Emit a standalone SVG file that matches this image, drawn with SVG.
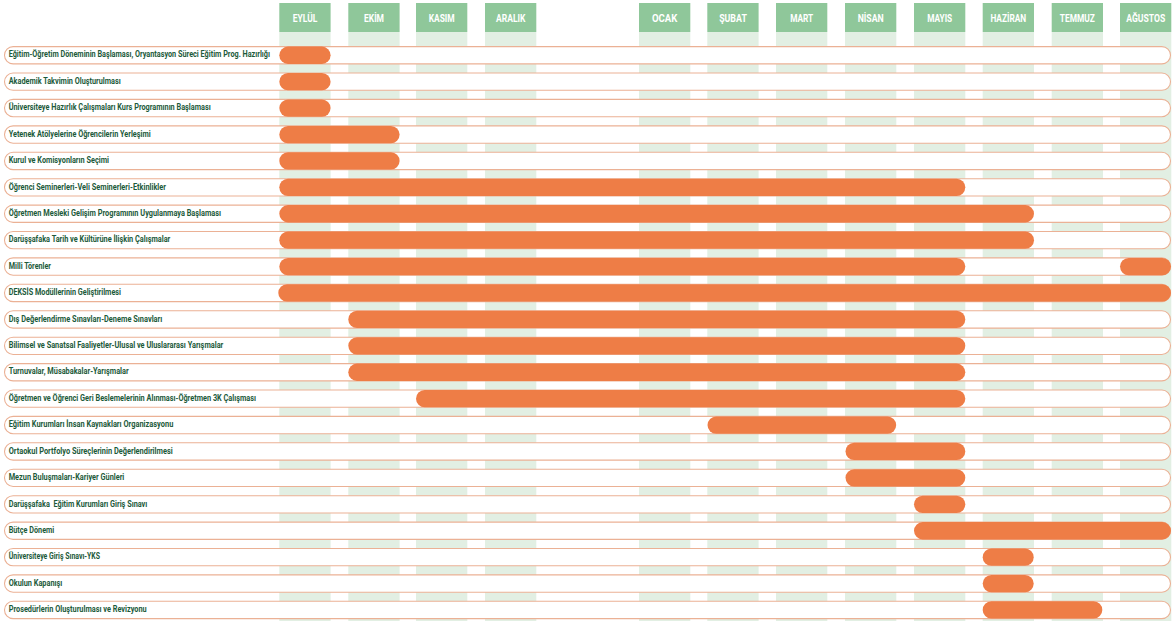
<svg xmlns="http://www.w3.org/2000/svg" width="1172" height="621" viewBox="0 0 1172 621">
<style>
.col{fill:#e2efe3}
.hdr{fill:#8fc79a}
.ht{fill:#ffffff;font-family:"Roboto","Liberation Sans",sans-serif;font-weight:bold;font-size:11px;text-anchor:middle}
.pill{fill:#ffffff;stroke:#ebb195;stroke-width:1.1}
.bar{fill:#ee7d46}
.lbl{fill:#1c5a3a;font-family:"Roboto","Liberation Sans",sans-serif;font-weight:bold;font-size:8.6px}
</style>
<rect width="1172" height="621" fill="#ffffff"/>
<g id="months">
<g id="m-eylul"><rect class="col" x="279.3" y="32" width="51.3" height="589"/><rect class="hdr" x="279.3" y="3" width="51.3" height="29"/><text class="ht" x="305" y="22" textLength="24.7" lengthAdjust="spacingAndGlyphs">EYLÜL</text></g>
<g id="m-ekim"><rect class="col" x="348.3" y="32" width="51.3" height="589"/><rect class="hdr" x="348.3" y="3" width="51.3" height="29"/><text class="ht" x="374" y="22" textLength="20" lengthAdjust="spacingAndGlyphs">EKİM</text></g>
<g id="m-kasim"><rect class="col" x="416" y="32" width="51.3" height="589"/><rect class="hdr" x="416" y="3" width="51.3" height="29"/><text class="ht" x="441.7" y="22" textLength="26" lengthAdjust="spacingAndGlyphs">KASIM</text></g>
<g id="m-aralik"><rect class="col" x="485" y="32" width="51.3" height="589"/><rect class="hdr" x="485" y="3" width="51.3" height="29"/><text class="ht" x="510.7" y="22" textLength="29.3" lengthAdjust="spacingAndGlyphs">ARALIK</text></g>
<g id="m-ocak"><rect class="col" x="639" y="32" width="51.3" height="589"/><rect class="hdr" x="639" y="3" width="51.3" height="29"/><text class="ht" x="664.7" y="22" textLength="25.3" lengthAdjust="spacingAndGlyphs">OCAK</text></g>
<g id="m-subat"><rect class="col" x="707.3" y="32" width="51.3" height="589"/><rect class="hdr" x="707.3" y="3" width="51.3" height="29"/><text class="ht" x="733" y="22" textLength="27.7" lengthAdjust="spacingAndGlyphs">ŞUBAT</text></g>
<g id="m-mart"><rect class="col" x="776" y="32" width="51.3" height="589"/><rect class="hdr" x="776" y="3" width="51.3" height="29"/><text class="ht" x="801.7" y="22" textLength="23" lengthAdjust="spacingAndGlyphs">MART</text></g>
<g id="m-nisan"><rect class="col" x="845" y="32" width="51.3" height="589"/><rect class="hdr" x="845" y="3" width="51.3" height="29"/><text class="ht" x="870.7" y="22" textLength="26" lengthAdjust="spacingAndGlyphs">NİSAN</text></g>
<g id="m-mayis"><rect class="col" x="914" y="32" width="51.3" height="589"/><rect class="hdr" x="914" y="3" width="51.3" height="29"/><text class="ht" x="939.7" y="22" textLength="25" lengthAdjust="spacingAndGlyphs">MAYIS</text></g>
<g id="m-haziran"><rect class="col" x="982.7" y="32" width="51.3" height="589"/><rect class="hdr" x="982.7" y="3" width="51.3" height="29"/><text class="ht" x="1008.3" y="22" textLength="35.7" lengthAdjust="spacingAndGlyphs">HAZİRAN</text></g>
<g id="m-temmuz"><rect class="col" x="1051.7" y="32" width="51.3" height="589"/><rect class="hdr" x="1051.7" y="3" width="51.3" height="29"/><text class="ht" x="1077.3" y="22" textLength="35" lengthAdjust="spacingAndGlyphs">TEMMUZ</text></g>
<g id="m-agustos"><rect class="col" x="1120" y="32" width="51.3" height="589"/><rect class="hdr" x="1120" y="3" width="51.3" height="29"/><text class="ht" x="1145.7" y="22" textLength="39" lengthAdjust="spacingAndGlyphs">AĞUSTOS</text></g>
</g>
<g id="r1"><rect class="pill" x="4.5" y="46.6" width="1166" height="17.3" rx="8.65"/><rect class="bar" x="279.3" y="46.6" width="51.3" height="17.3" rx="8.65"/><text class="lbl" x="8.7" y="57.4" textLength="261.3" lengthAdjust="spacingAndGlyphs">Eğitim-Öğretim Döneminin Başlaması,  Oryantasyon Süreci Eğitim Prog. Hazırlığı</text></g>
<g id="r2"><rect class="pill" x="4.5" y="73.0" width="1166" height="17.3" rx="8.65"/><rect class="bar" x="279.3" y="73.0" width="51.3" height="17.3" rx="8.65"/><text class="lbl" x="8.7" y="83.8" textLength="112" lengthAdjust="spacingAndGlyphs">Akademik Takvimin Oluşturulması</text></g>
<g id="r3"><rect class="pill" x="4.5" y="99.4" width="1166" height="17.3" rx="8.65"/><rect class="bar" x="279.3" y="99.4" width="51.3" height="17.3" rx="8.65"/><text class="lbl" x="8.7" y="110.2" textLength="202" lengthAdjust="spacingAndGlyphs">Üniversiteye Hazırlık Çalışmaları Kurs Programının Başlaması</text></g>
<g id="r4"><rect class="pill" x="4.5" y="125.9" width="1166" height="17.3" rx="8.65"/><rect class="bar" x="279.3" y="125.9" width="120.3" height="17.3" rx="8.65"/><text class="lbl" x="8.7" y="136.7" textLength="142" lengthAdjust="spacingAndGlyphs">Yetenek Atölyelerine Öğrencilerin Yerleşimi</text></g>
<g id="r5"><rect class="pill" x="4.5" y="152.3" width="1166" height="17.3" rx="8.65"/><rect class="bar" x="279.3" y="152.3" width="120.3" height="17.3" rx="8.65"/><text class="lbl" x="8.7" y="163.1" textLength="100.3" lengthAdjust="spacingAndGlyphs">Kurul ve Komisyonların Seçimi</text></g>
<g id="r6"><rect class="pill" x="4.5" y="178.7" width="1166" height="17.3" rx="8.65"/><rect class="bar" x="279.3" y="178.7" width="686" height="17.3" rx="8.65"/><text class="lbl" x="8.7" y="189.5" textLength="157.3" lengthAdjust="spacingAndGlyphs">Öğrenci Seminerleri-Veli Seminerleri-Etkinlikler</text></g>
<g id="r7"><rect class="pill" x="4.5" y="205.1" width="1166" height="17.3" rx="8.65"/><rect class="bar" x="279.3" y="205.1" width="754.7" height="17.3" rx="8.65"/><text class="lbl" x="8.7" y="215.9" textLength="212.3" lengthAdjust="spacingAndGlyphs">Öğretmen Mesleki Gelişim Programının Uygulanmaya Başlaması</text></g>
<g id="r8"><rect class="pill" x="4.5" y="231.5" width="1166" height="17.3" rx="8.65"/><rect class="bar" x="279.3" y="231.5" width="754.7" height="17.3" rx="8.65"/><text class="lbl" x="8.7" y="242.3" textLength="161.6" lengthAdjust="spacingAndGlyphs">Darüşşafaka Tarih ve Kültürüne İlişkin Çalışmalar</text></g>
<g id="r9"><rect class="pill" x="4.5" y="257.9" width="1166" height="17.3" rx="8.65"/><rect class="bar" x="279.3" y="257.9" width="686" height="17.3" rx="8.65"/><rect class="bar" x="1120" y="257.9" width="51" height="17.3" rx="8.65"/><text class="lbl" x="8.7" y="268.7" textLength="42.3" lengthAdjust="spacingAndGlyphs">Milli Törenler</text></g>
<g id="r10"><rect class="pill" x="4.5" y="284.3" width="1166" height="17.3" rx="8.65"/><rect class="bar" x="278.3" y="284.3" width="892.7" height="17.3" rx="8.65"/><text class="lbl" x="8.7" y="295.1" textLength="112.3" lengthAdjust="spacingAndGlyphs">DEKSİS Modüllerinin Geliştirilmesi</text></g>
<g id="r11"><rect class="pill" x="4.5" y="310.8" width="1166" height="17.3" rx="8.65"/><rect class="bar" x="348.3" y="310.8" width="617" height="17.3" rx="8.65"/><text class="lbl" x="8.7" y="321.6" textLength="153.6" lengthAdjust="spacingAndGlyphs">Dış Değerlendirme Sınavları-Deneme Sınavları</text></g>
<g id="r12"><rect class="pill" x="4.5" y="337.2" width="1166" height="17.3" rx="8.65"/><rect class="bar" x="348.3" y="337.2" width="617" height="17.3" rx="8.65"/><text class="lbl" x="8.7" y="348.0" textLength="214.6" lengthAdjust="spacingAndGlyphs">Bilimsel ve Sanatsal Faaliyetler-Ulusal ve Uluslararası Yarışmalar</text></g>
<g id="r13"><rect class="pill" x="4.5" y="363.6" width="1166" height="17.3" rx="8.65"/><rect class="bar" x="348.3" y="363.6" width="617" height="17.3" rx="8.65"/><text class="lbl" x="8.7" y="374.4" textLength="120" lengthAdjust="spacingAndGlyphs">Turnuvalar, Müsabakalar-Yarışmalar</text></g>
<g id="r14"><rect class="pill" x="4.5" y="390.0" width="1166" height="17.3" rx="8.65"/><rect class="bar" x="416" y="390.0" width="549.3" height="17.3" rx="8.65"/><text class="lbl" x="8.7" y="400.8" textLength="247.3" lengthAdjust="spacingAndGlyphs">Öğretmen ve Öğrenci Geri Beslemelerinin Alınması-Öğretmen 3K Çalışması</text></g>
<g id="r15"><rect class="pill" x="4.5" y="416.4" width="1166" height="17.3" rx="8.65"/><rect class="bar" x="707.5" y="416.4" width="188.7" height="17.3" rx="8.65"/><text class="lbl" x="8.7" y="427.2" textLength="164.6" lengthAdjust="spacingAndGlyphs">Eğitim Kurumları İnsan Kaynakları Organizasyonu</text></g>
<g id="r16"><rect class="pill" x="4.5" y="442.8" width="1166" height="17.3" rx="8.65"/><rect class="bar" x="845.5" y="442.8" width="119.8" height="17.3" rx="8.65"/><text class="lbl" x="8.7" y="453.6" textLength="164" lengthAdjust="spacingAndGlyphs">Ortaokul Portfolyo Süreçlerinin Değerlendirilmesi</text></g>
<g id="r17"><rect class="pill" x="4.5" y="469.2" width="1166" height="17.3" rx="8.65"/><rect class="bar" x="845.5" y="469.2" width="119.8" height="17.3" rx="8.65"/><text class="lbl" x="8.7" y="480.0" textLength="115.6" lengthAdjust="spacingAndGlyphs">Mezun Buluşmaları-Kariyer Günleri</text></g>
<g id="r18"><rect class="pill" x="4.5" y="495.7" width="1166" height="17.3" rx="8.65"/><rect class="bar" x="914" y="495.7" width="51.3" height="17.3" rx="8.65"/><text class="lbl" x="8.7" y="506.5" textLength="138.6" lengthAdjust="spacingAndGlyphs" xml:space="preserve">Darüşşafaka  Eğitim Kurumları Giriş Sınavı</text></g>
<g id="r19"><rect class="pill" x="4.5" y="522.1" width="1166" height="17.3" rx="8.65"/><rect class="bar" x="914" y="522.1" width="257" height="17.3" rx="8.65"/><text class="lbl" x="8.7" y="532.9" textLength="45.6" lengthAdjust="spacingAndGlyphs">Bütçe Dönemi</text></g>
<g id="r20"><rect class="pill" x="4.5" y="548.5" width="1166" height="17.3" rx="8.65"/><rect class="bar" x="982.7" y="548.5" width="51" height="17.3" rx="8.65"/><text class="lbl" x="8.7" y="559.3" textLength="91.3" lengthAdjust="spacingAndGlyphs">Üniversiteye Giriş Sınavı-YKS</text></g>
<g id="r21"><rect class="pill" x="4.5" y="574.9" width="1166" height="17.3" rx="8.65"/><rect class="bar" x="982.7" y="574.9" width="51" height="17.3" rx="8.65"/><text class="lbl" x="8.7" y="585.7" textLength="53.6" lengthAdjust="spacingAndGlyphs">Okulun Kapanışı</text></g>
<g id="r22"><rect class="pill" x="4.5" y="601.3" width="1166" height="17.3" rx="8.65"/><rect class="bar" x="982.7" y="601.3" width="119.6" height="17.3" rx="8.65"/><text class="lbl" x="8.7" y="612.1" textLength="138" lengthAdjust="spacingAndGlyphs">Prosedürlerin Oluşturulması ve Revizyonu</text></g>
<g id="connectors"/>
</svg>
